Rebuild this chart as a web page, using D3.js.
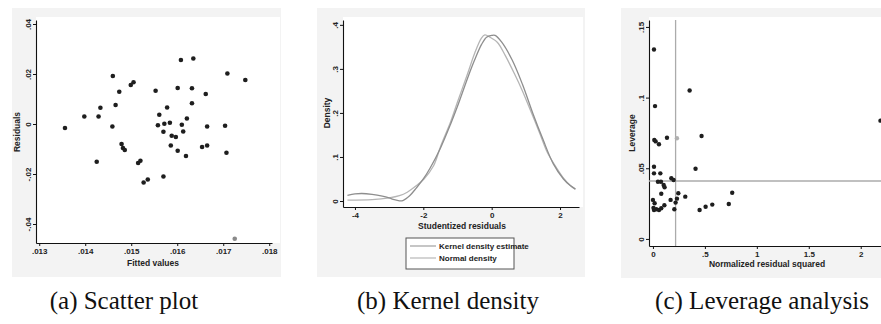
<!DOCTYPE html>
<html><head><meta charset="utf-8">
<script src="https://cdn.jsdelivr.net/npm/d3@7"></script>
<style>
body{margin:0;background:#fff;}
svg{display:block;}
.ax text{font-family:"Liberation Sans Narrow","Liberation Sans",Arial,sans-serif;font-size:8px;font-weight:bold;fill:#222;}
.ttl{font-family:"Liberation Sans Narrow","Liberation Sans",Arial,sans-serif;font-size:8.5px;font-weight:bold;fill:#222;}
.cap{font-family:"Liberation Serif","Times New Roman",serif;font-size:25px;fill:#111;}
</style></head>
<body><svg id="c" width="881" height="324"></svg>
<script>
// ---------- Panel (a): scatter of residuals vs fitted values ----------
const fittedValues = [.01356,.01398,.01429,.01433,.01425,.0146,.01474,.01466,.01459,.01479,.01482,.01486,.01499,.01505,.01515,.0152,.01527,.01536,.01553,.01558,.01561,.0157,.01572,.01578,.01584,.0157,.01588,.01586,.01597,.01601,.01601,.01608,.0161,.01613,.01621,.01619,.01632,.01632,.01635,.01654,.01662,.01665,.01665,.01704,.01707,.01709,.01748];
const residuals = [-.0016,.003,.003,.0065,-.0151,.0192,.0129,.0076,-.001,-.008,-.0096,-.0104,.0156,.0167,-.0156,-.0147,-.0234,-.0222,.0133,-.0005,.0037,-.0031,.0001,.0066,.0005,-.021,-.0047,-.0086,-.0052,.0144,-.0107,.0256,-.0003,-.003,.0022,-.0128,.0143,.0083,.0262,-.0092,.012,-.001,-.0086,-.0007,-.0115,.0202,.0176];
const fadedFitted = [.01725];
const fadedResid = [-.0459];
const aXTicks = [.013,.014,.015,.016,.017,.018];
const aXLabels = [".013",".014",".015",".016",".017",".018"];
const aYTicks = [-.04,-.02,0,.02,.04];
const aYLabels = ["-.04","-.02","0",".02",".04"];

// ---------- Panel (b): kernel density vs normal density ----------
const kernelX = [-4.22,-4.0,-3.8,-3.5,-3.2,-3.0,-2.85,-2.7,-2.6,-2.4,-2.2,-2.0,-1.8,-1.5,-1.2,-1.0,-0.7,-0.5,-0.3,-0.15,0.0,0.1,0.3,0.6,0.9,1.2,1.5,1.8,2.1,2.3,2.45];
const kernelY = [.013,.016,.017,.015,.011,.007,.003,.0005,.001,.012,.03,.05,.075,.12,.175,.215,.28,.32,.355,.372,.376,.376,.36,.32,.265,.2,.14,.085,.05,.035,.027];
const normalX = [-4.22,-3.5,-3.0,-2.7,-2.47,-2.2,-1.98,-1.7,-1.49,-1.2,-1.0,-0.7,-0.5,-0.3,-0.2,-0.05,0.17,0.4,0.66,0.9,1.14,1.4,1.63,1.9,2.12,2.3,2.45];
const normalY = [.002,.003,.007,.012,.02,.035,.05,.08,.125,.18,.225,.29,.335,.37,.377,.372,.36,.33,.29,.25,.205,.155,.11,.075,.05,.035,.027];
const bXTicks = [-4,-2,0,2];
const bXLabels = ["-4","-2","0","2"];
const bYTicks = [0,.1,.2,.3,.4];
const bYLabels = ["0",".1",".2",".3",".4"];
const legendLabels = ["Kernel density estimate","Normal density"];

// ---------- Panel (c): leverage vs normalized residual squared ----------
const normResidSq = [.01,.02,.013,.026,.058,.135,.353,.468,.41,.763,.73,.571,.507,.449,.311,.244,.231,.218,.206,.17,.11,.08,.071,.01,.01,.077,.103,.112,.177,.199,0,.016,.01,.032,.058,.08,.048,2.19,.005];
const leverage = [.134,.094,.07,.069,.067,.0716,.105,.0728,.0497,.0327,.0247,.0243,.0228,.0205,.0299,.0323,.0285,.0257,.021,.0276,.0238,.032,.0464,.0511,.0464,.0405,.0382,.0366,.0429,.0417,.0276,.0252,.0205,.021,.0205,.0217,.0405,.0837,.022];
const fadedNRS = [.231];
const fadedLev = [.0712];
const refNRS = [.218];
const refLev = [.041];
const cXTicks = [0,.5,1,1.5,2];
const cXLabels = ["0",".5","1","1.5","2"];
const cYTicks = [0,.05,.1,.15];
const cYLabels = ["0",".05",".1",".15"];

const captions = ["(a) Scatter plot","(b) Kernel density","(c) Leverage analysis"];

const svg = d3.select("#c");

function panel(o){
  const g = svg.append("g");
  g.append("rect").attr("x",o.bg[0]).attr("y",o.bg[1]).attr("width",o.bg[2]-o.bg[0]).attr("height",o.bg[3]-o.bg[1]).attr("fill","#f3f3f3");
  g.append("rect").attr("x",o.xr[0]).attr("y",o.pr[0]).attr("width",o.pr[1]-o.xr[0]).attr("height",o.yr[0]-o.pr[0]).attr("fill","#fff");
  const x = d3.scaleLinear().domain(o.xd).range(o.xr);
  const y = d3.scaleLinear().domain(o.yd).range(o.yr);
  const xa = g.append("g").attr("class","ax").attr("transform",`translate(0,${o.yr[0]})`)
    .call(d3.axisBottom(x).tickValues(o.xt).tickFormat((d,i)=>o.xl[i]).tickSize(3).tickPadding(2).tickSizeOuter(0));
  const ya = g.append("g").attr("class","ax").attr("transform",`translate(${o.xr[0]},0)`)
    .call(d3.axisLeft(y).tickValues(o.yt).tickFormat((d,i)=>o.yl[i]).tickSize(3).tickPadding(2).tickSizeOuter(0));
  ya.selectAll("text").attr("transform","rotate(-90)").attr("text-anchor","middle").attr("x",0).attr("y",-5).attr("dy",0);
  [xa,ya].forEach(a=>{a.select(".domain").attr("stroke","#111").attr("stroke-width",1.1);a.selectAll(".tick line").attr("stroke","#111");});
  g.append("text").attr("class","ttl").attr("text-anchor","middle").attr("x",o.xt_pos[0]).attr("y",o.xt_pos[1]).text(o.xtitle);
  g.append("text").attr("class","ttl").attr("text-anchor","middle").attr("transform",`translate(${o.yt_pos[0]},${o.yt_pos[1]}) rotate(-90)`).text(o.ytitle);
  return {g,x,y};
}

// Panel a
{
  const p = panel({bg:[12,8,281,277],pr:[17,280],xr:[36,272],yr:[243,20],xd:[.01293,.01806],yd:[-.0476,.0416],
    xt:aXTicks,xl:aXLabels,yt:aYTicks,yl:aYLabels,xtitle:"Fitted values",ytitle:"Residuals",xt_pos:[153,266],yt_pos:[20,132]});
  p.g.selectAll(".pt").data(fittedValues).join("circle").attr("cx",d=>p.x(d)).attr("cy",(d,i)=>p.y(residuals[i])).attr("r",2.3).attr("fill","#1e1e1e");
  p.g.selectAll(".fp").data(fadedFitted).join("circle").attr("cx",d=>p.x(d)).attr("cy",(d,i)=>p.y(fadedResid[i])).attr("r",2.3).attr("fill","#8a8a8a");
}
// Panel b
{
  const p = panel({bg:[317,8,585,277],pr:[17,583],xr:[343,579],yr:[207,20],xd:[-4.35,2.555],yd:[-.0136,.411],
    xt:bXTicks,xl:bXLabels,yt:bYTicks,yl:bYLabels,xtitle:"Studentized residuals",ytitle:"Density",xt_pos:[462,229],yt_pos:[330,113]});
  const clip = p.g.append("clipPath").attr("id","cb").append("rect").attr("x",343).attr("y",20).attr("width",236).attr("height",187);
  const line = (xs,ys)=>d3.line().curve(d3.curveCatmullRom).x((d,i)=>p.x(xs[i])).y((d,i)=>p.y(ys[i]))(xs);
  p.g.append("path").attr("d",line(normalX,normalY)).attr("fill","none").attr("stroke","#b5b5b5").attr("stroke-width",1.3).attr("clip-path","url(#cb)");
  p.g.append("path").attr("d",line(kernelX,kernelY)).attr("fill","none").attr("stroke","#8e8e8e").attr("stroke-width",1.3).attr("clip-path","url(#cb)");
  const lg = p.g.append("g");
  lg.append("rect").attr("x",406).attr("y",238).attr("width",108).attr("height",31).attr("fill","#fff").attr("stroke","#555").attr("stroke-width",1);
  const cols = ["#a8a8a8","#bdbdbd"];
  legendLabels.forEach((t,i)=>{
    lg.append("line").attr("x1",410).attr("x2",436).attr("y1",246+i*12).attr("y2",246+i*12).attr("stroke",cols[i]).attr("stroke-width",1.3);
    lg.append("text").attr("class","ttl").attr("x",439).attr("y",249+i*12).style("font-size","8px").text(t);
  });
}
// Panel c
{
  const p = panel({bg:[621,8,881,278],pr:[17,881],xr:[649,900],yr:[246,20],xd:[-.038,2.378],yd:[-.005,.1549],
    xt:cXTicks,xl:cXLabels,yt:cYTicks,yl:cYLabels,xtitle:"Normalized residual squared",ytitle:"Leverage",xt_pos:[767,267],yt_pos:[635,133]});
  p.g.selectAll(".rv").data(refNRS).join("line").attr("x1",d=>p.x(d)).attr("x2",d=>p.x(d)).attr("y1",20).attr("y2",246).attr("stroke","#ababab").attr("stroke-width",1.3);
  p.g.selectAll(".rh").data(refLev).join("line").attr("x1",649).attr("x2",900).attr("y1",d=>p.y(d)).attr("y2",d=>p.y(d)).attr("stroke","#ababab").attr("stroke-width",1.3);
  p.g.selectAll(".pt").data(normResidSq).join("circle").attr("cx",d=>p.x(d)).attr("cy",(d,i)=>p.y(leverage[i])).attr("r",2.2).attr("fill","#1e1e1e");
  p.g.selectAll(".fp").data(fadedNRS).join("circle").attr("cx",d=>p.x(d)).attr("cy",(d,i)=>p.y(fadedLev[i])).attr("r",2.2).attr("fill","#b0b0b0");
}
// captions
const capX = [124,448,762];
svg.selectAll(".cap").data(captions).join("text").attr("class","cap").attr("text-anchor","middle")
  .attr("x",(d,i)=>capX[i]).attr("y",309).text(d=>d);
</script></body></html>
